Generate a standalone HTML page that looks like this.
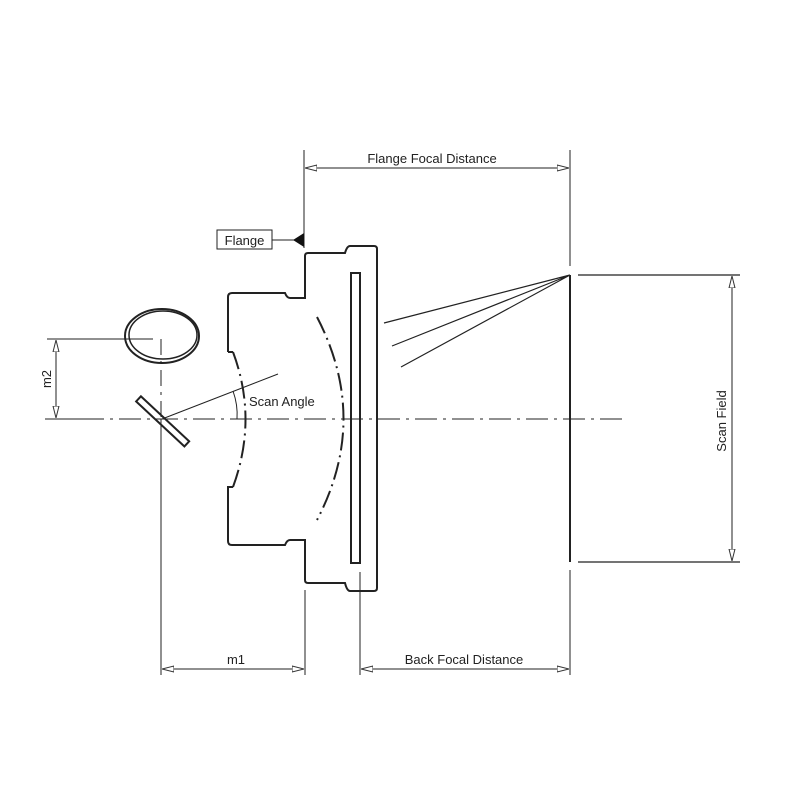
<!DOCTYPE html>
<html><head><style>html,body{margin:0;padding:0;background:#fff}svg{display:block}text{font-family:"Liberation Sans",sans-serif;fill:#222}</style></head>
<body>
<svg width="800" height="800" viewBox="0 0 800 800" xmlns="http://www.w3.org/2000/svg">
<defs>
<marker id="a" viewBox="0 0 12 8" refX="12" refY="4" markerWidth="12" markerHeight="8" markerUnits="userSpaceOnUse" orient="auto-start-reverse"><path d="M0,1 L12,4 L0,7 Z" fill="#fff" stroke="#333" stroke-width="1"/></marker>
</defs>
<g fill="none" stroke="#222">
<path d="M228,352 L228,297 Q228,293 232,293 L285,293 Q287,298 290,298 L305,298 L305,256 Q305,253 308,253 L345,253 Q347,246 350,246 L374,246 Q377,246 377,249 L377,588 Q377,591 374,591 L350,591 Q347,591 345,583 L308,583 Q305,583 305,580 L305,540 L290,540 Q287,540 285,545 L232,545 Q228,545 228,541 L228,487 L233,487" stroke-width="2"/>
<path d="M228,352 L233,352" stroke-width="2"/>
<rect x="351" y="273" width="9" height="290" stroke-width="2"/>
<path d="M233,352 Q258,419 233,487" stroke-width="2" stroke-dasharray="18,5,2,5"/>
<path d="M317,317 Q370,419 317,520" stroke-width="2" stroke-dasharray="18,5,2,5"/>
<ellipse cx="162" cy="336" rx="37" ry="27" stroke-width="2"/>
<ellipse cx="163" cy="335" rx="34" ry="24" stroke-width="1.5"/>
<rect x="130" y="418" width="66" height="7" transform="rotate(43 163 421)" stroke-width="2"/>
<path d="M45,419 L625,419" stroke-width="1" stroke-dasharray="22,6,3,6"/>
<path d="M161,339 L161,419" stroke-width="1" stroke-dasharray="16,6,3,6"/>
<path d="M161,419 L161,675" stroke-width="1"/>
<path d="M162,419 L278,374" stroke-width="1"/>
<path d="M237,419 Q238,405 233,391" stroke-width="1"/>
<path d="M47,339 L153,339 M47,419 L102,419" stroke-width="1"/>
<path d="M56,340 L56,418" stroke-width="1" marker-start="url(#a)" marker-end="url(#a)"/>
<rect x="217" y="230" width="55" height="19" stroke-width="1"/>
<path d="M272,240 L294,240" stroke-width="1"/>
<path d="M304,150 L304,248" stroke-width="1"/>
<path d="M305,168 L569,168" stroke-width="1" marker-start="url(#a)" marker-end="url(#a)"/>
<path d="M570,150 L570,266" stroke-width="1"/>
<path d="M570,275 L384,323 M570,275 L392,346 M570,275 L401,367" stroke-width="1.2"/>
<path d="M570,275 L570,562" stroke-width="2"/>
<path d="M570,570 L570,675" stroke-width="1"/>
<path d="M578,275 L740,275 M578,562 L740,562" stroke-width="1.2"/>
<path d="M732,276 L732,561" stroke-width="1" marker-start="url(#a)" marker-end="url(#a)"/>
<path d="M305,590 L305,675 M360,572 L360,675" stroke-width="1"/>
<path d="M162,669 L304,669" stroke-width="1" marker-start="url(#a)" marker-end="url(#a)"/>
<path d="M361,669 L569,669" stroke-width="1" marker-start="url(#a)" marker-end="url(#a)"/>
</g>
<path d="M293,240 L304,233 L304,247 Z" fill="#111"/>
<text x="244.5" y="245" font-size="13" text-anchor="middle">Flange</text>
<text x="432" y="163" font-size="13" text-anchor="middle">Flange Focal Distance</text>
<text x="249" y="406" font-size="13">Scan Angle</text>
<text x="236" y="664" font-size="13" text-anchor="middle">m1</text>
<text x="464" y="664" font-size="13" text-anchor="middle">Back Focal Distance</text>
<text transform="translate(726,421) rotate(-90)" font-size="13" text-anchor="middle">Scan Field</text>
<text transform="translate(51,379) rotate(-90)" font-size="13" text-anchor="middle">m2</text>
</svg>
</body></html>
